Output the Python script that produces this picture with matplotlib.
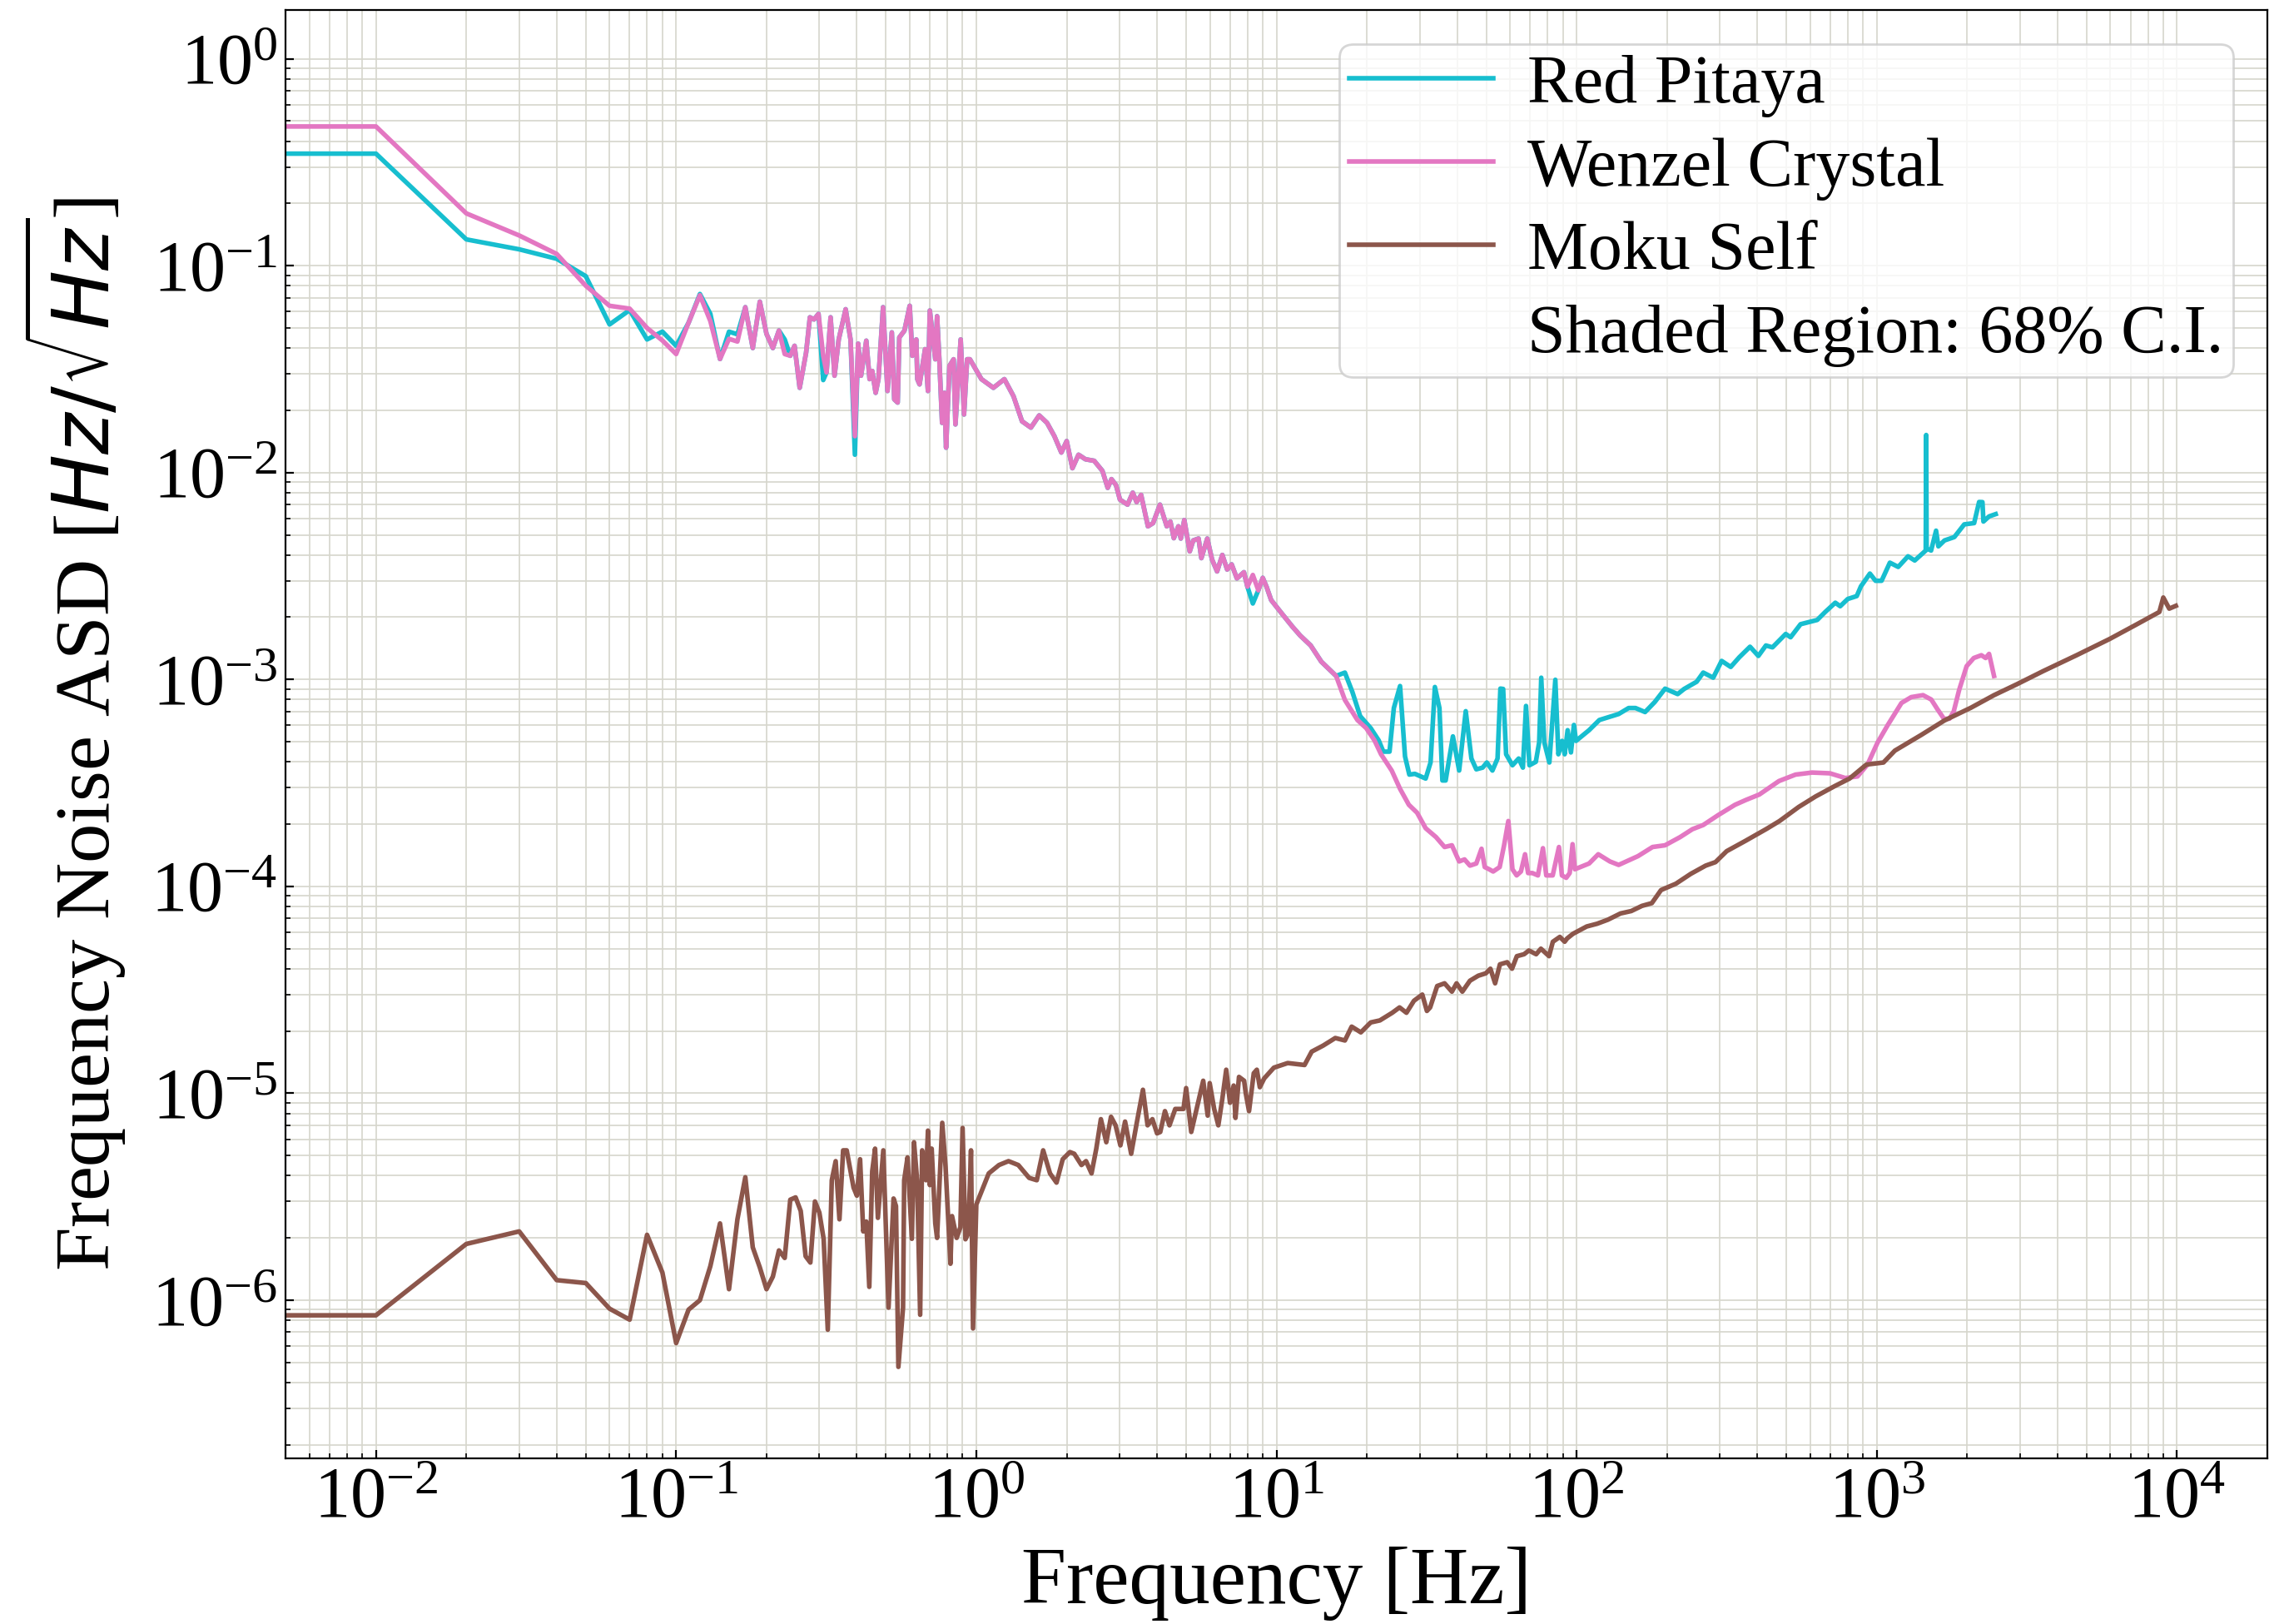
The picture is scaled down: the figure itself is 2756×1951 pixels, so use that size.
import numpy as np
import matplotlib
matplotlib.use('Agg')
import matplotlib.pyplot as plt

# ---- data (frequency in Hz, ASD in Hz/sqrt(Hz)) ----
low_f = [0.005, 0.01, 0.02, 0.03, 0.04, 0.05, 0.06, 0.07, 0.08, 0.09,
         0.10, 0.11, 0.12, 0.13, 0.14, 0.15, 0.16, 0.17, 0.18, 0.19,
         0.20, 0.21, 0.22, 0.23]
pitaya_low_v = [0.348, 0.348, 0.134, 0.120, 0.108, 0.089, 0.052, 0.061, 0.044, 0.048,
                0.041, 0.053, 0.073, 0.0585, 0.0354, 0.048, 0.0466, 0.063, 0.040, 0.067,
                0.0468, 0.040, 0.0486, 0.044]
wenzel_low_v = [0.471, 0.471, 0.179, 0.140, 0.114, 0.080, 0.064, 0.062, 0.050, 0.0435,
                0.0374, 0.053, 0.072, 0.054, 0.0354, 0.0443, 0.043, 0.063, 0.040, 0.067,
                0.0468, 0.040, 0.0486, 0.0374]

# band where Red Pitaya and Wenzel lie on top of each other
mid_f = [0.24, 0.248, 0.258, 0.271, 0.279, 0.288, 0.298, 0.309, 0.317, 0.327,
         0.337, 0.348, 0.367, 0.381, 0.394, 0.404, 0.413, 0.43, 0.441, 0.45,
         0.462, 0.472, 0.489, 0.506, 0.523, 0.533, 0.547, 0.554, 0.576, 0.6,
         0.612, 0.631, 0.636, 0.647, 0.675, 0.69, 0.7, 0.73, 0.74, 0.753,
         0.769, 0.783, 0.793, 0.814, 0.84, 0.852, 0.887, 0.91, 0.932, 0.952,
         1.04, 1.14, 1.24, 1.33, 1.42, 1.52, 1.62, 1.72, 1.82, 1.92,
         2.0, 2.09, 2.19, 2.31, 2.47, 2.63, 2.74, 2.82, 2.92, 3.01,
         3.19, 3.32, 3.42, 3.54, 3.73, 3.88, 4.09, 4.31, 4.43, 4.55,
         4.71, 4.8, 4.93, 5.14, 5.28, 5.5, 5.62, 5.88, 6.1, 6.34,
         6.6, 6.85, 7.09, 7.38, 7.79, 8.0, 8.34, 8.7, 9.0, 9.27,
         9.6, 10.4, 11.3, 12.0, 13.0, 14.1, 15.8]
mid_v = [0.0367, 0.041, 0.0257, 0.038, 0.0563, 0.055, 0.0585, 0.0367, 0.0305, 0.0563,
         0.0294, 0.044, 0.0616, 0.044, 0.015, 0.042, 0.0294, 0.0434, 0.0283, 0.031,
         0.0243, 0.0283, 0.063, 0.0248, 0.0476, 0.0226, 0.0218, 0.045, 0.0485, 0.064,
         0.0367, 0.044, 0.0283, 0.0267, 0.0395, 0.0248, 0.0607, 0.0353, 0.057, 0.0353,
         0.0174, 0.0243, 0.0132, 0.0328, 0.0353, 0.0171, 0.044, 0.0191, 0.0353, 0.0353,
         0.0283, 0.0257, 0.0283, 0.0234, 0.0177, 0.0165, 0.0189, 0.0174, 0.015, 0.0125,
         0.0142, 0.0105, 0.0122, 0.0116, 0.0114, 0.0102, 0.00844, 0.0093, 0.0087, 0.0074,
         0.0070, 0.0080, 0.0072, 0.0078, 0.0055, 0.0057, 0.0070, 0.0055, 0.0058, 0.00482,
         0.0055, 0.0048, 0.0059, 0.00416, 0.0047, 0.0048, 0.00386, 0.0048, 0.0038, 0.00333,
         0.0040, 0.0034, 0.0036, 0.00308, 0.0033, 0.00281, 0.0032, 0.0027, 0.0031, 0.0028,
         0.00242, 0.00209, 0.0018, 0.00163, 0.00146, 0.00122, 0.00104]
# places where the Red Pitaya trace dips below the Wenzel one
pitaya_dip_f = [0.309, 0.394, 8.34]
pitaya_dip_v = [0.028, 0.0122, 0.00233]

pitaya_high_f = [16.9, 17.9, 19.0, 20.6, 21.9, 22.7, 23.8, 24.6, 25.8, 26.8,
                 27.7, 28.9, 31.4, 32.6, 33.7, 34.9, 35.7, 36.6, 38.7, 40.6,
                 42.7, 44.6, 46.3, 48.6, 50.2, 52.4, 54.5, 55.7, 56.9, 58.2,
                 61.1, 64.1, 66.2, 67.8, 69.6, 73.1, 75.0, 76.2, 78.0, 81.1,
                 84.9, 86.9, 89.4, 91.2, 93.3, 95.7, 97.9, 99.5, 110, 119,
                 138, 149, 157, 169, 182, 197, 217, 228, 251, 264,
                 285, 304, 326, 348, 378, 403, 427, 449, 497, 516,
                 557, 633, 673, 727, 755, 800, 857, 885, 948, 990,
                 1037, 1105, 1178, 1270, 1337, 1423, 1455, 1460, 1465, 1516,
                 1575, 1603, 1680, 1812, 1955, 2109, 2191, 2248, 2265, 2365,
                 2488]
pitaya_high_v = [0.00108, 0.00087, 0.000665, 0.000582, 0.000508, 0.000448, 0.000448, 0.000728, 0.00093, 0.000425,
                 0.000347, 0.00035, 0.000332, 0.000397, 0.00092, 0.000728, 0.000325, 0.000325, 0.000531, 0.000363,
                 0.000703, 0.000415, 0.000368, 0.000375, 0.000397, 0.000363, 0.000415, 0.000904, 0.0009, 0.000435,
                 0.000385, 0.000415, 0.000375, 0.000745, 0.000385, 0.0004, 0.000497, 0.00102, 0.000497, 0.000397,
                 0.000997, 0.000435, 0.000505, 0.000435, 0.000569, 0.000444, 0.000603, 0.000505, 0.000569, 0.000637,
                 0.000681, 0.000728, 0.000728, 0.000696, 0.000778, 0.000903, 0.00085, 0.0009, 0.000975, 0.00108,
                 0.00102, 0.00123, 0.00115, 0.00128, 0.00144, 0.0013, 0.00146, 0.00143, 0.00166, 0.0016,
                 0.00185, 0.00194, 0.00212, 0.00235, 0.00226, 0.00245, 0.00253, 0.00282, 0.00325, 0.0030,
                 0.0030, 0.00367, 0.0035, 0.00394, 0.00376, 0.00408, 0.0042, 0.0152, 0.0043, 0.0042,
                 0.00524, 0.0044, 0.0047, 0.00488, 0.00562, 0.0057, 0.00721, 0.0072, 0.0058, 0.00614,
                 0.0063]

wenzel_high_f = [16.9, 18.6, 19.9, 21.2, 22.3, 24.2, 25.8, 27.6, 29.4, 31.4,
                 34.0, 36.3, 38.4, 40.6, 42.3, 44.1, 46.3, 48.2, 49.4, 51.1,
                 52.7, 55.4, 57.3, 59.2, 61.1, 63.1, 65.2, 67.3, 68.9, 71.2,
                 74.3, 77.2, 79.2, 83.2, 87.3, 89.3, 92.3, 94.8, 96.9, 98.6,
                 110, 118, 129, 138, 160, 179, 197, 221, 243, 264,
                 296, 337, 367, 406, 472, 536, 608, 698, 785, 862,
                 930, 1005, 1087, 1208, 1302, 1425, 1518, 1590, 1673, 1745,
                 1803, 1880, 1991, 2103, 2229, 2304, 2365, 2457]
wenzel_high_v = [0.000796, 0.000637, 0.000582, 0.000508, 0.000435, 0.000363, 0.000296, 0.000248, 0.000227, 0.000191,
                 0.000173, 0.000155, 0.000158, 0.000132, 0.000135, 0.000126, 0.000129, 0.000152, 0.000124, 0.000121,
                 0.000118, 0.000124, 0.000158, 0.000207, 0.000121, 0.000113, 0.000118, 0.000143, 0.000116, 0.000116,
                 0.000113, 0.000153, 0.000113, 0.000113, 0.000155, 0.000113, 0.000110, 0.000116, 0.00016, 0.000121,
                 0.000129, 0.000143, 0.000132, 0.000127, 0.000140, 0.000155, 0.000158, 0.000173, 0.000189, 0.000198,
                 0.000221, 0.000248, 0.000262, 0.000278, 0.000323, 0.000347, 0.000355, 0.000352, 0.000334, 0.00034,
                 0.000387, 0.000495, 0.000602, 0.00077, 0.000822, 0.00084, 0.0008, 0.00072, 0.000646, 0.000646,
                 0.0007, 0.00089, 0.00116, 0.00127, 0.00131, 0.00127, 0.00133, 0.00104]

moku_f = [0.005, 0.01, 0.02, 0.03, 0.04, 0.05, 0.06, 0.07, 0.08, 0.09,
          0.10, 0.11, 0.12, 0.13, 0.14, 0.15, 0.16, 0.17, 0.18, 0.19,
          0.20, 0.21, 0.22, 0.23, 0.24, 0.25, 0.26, 0.27, 0.28, 0.29,
          0.30, 0.31, 0.32, 0.33, 0.34, 0.35, 0.36, 0.37, 0.39, 0.40,
          0.41, 0.42, 0.43, 0.44, 0.45, 0.46, 0.47, 0.49, 0.51, 0.53,
          0.54, 0.55, 0.57, 0.575, 0.59, 0.61, 0.62, 0.635, 0.65, 0.66,
          0.68, 0.69, 0.70, 0.71, 0.73, 0.74, 0.77, 0.79, 0.82, 0.83,
          0.86, 0.885, 0.90, 0.92, 0.94, 0.96, 0.975, 1.0, 1.1, 1.19,
          1.28, 1.38, 1.5, 1.59, 1.67, 1.76, 1.85, 1.94, 2.05, 2.12,
          2.24, 2.32, 2.42, 2.51, 2.6, 2.71, 2.81, 2.91, 3.02, 3.13,
          3.28, 3.43, 3.59, 3.72, 3.86, 4.0, 4.1, 4.25, 4.4, 4.6,
          4.9, 5.0, 5.2, 5.5, 5.7, 5.9, 5.99, 6.2, 6.4, 6.6,
          6.8, 7.0, 7.2, 7.3, 7.5, 7.8, 7.9, 8.1, 8.4, 8.6,
          8.8, 9.1, 9.8, 10.9, 12.4, 13.1, 14.3, 15.7, 16.9, 17.8,
          19.1, 20.6, 22.1, 24.3, 25.7, 27.1, 28.7, 30.6, 31.7, 32.5,
          34.3, 36.3, 38.4, 39.8, 41.6, 44.1, 47.0, 49.8, 51.6, 53.5,
          55.5, 58.7, 60.9, 63.2, 66.8, 69.3, 73.3, 76.0, 80.9, 83.3,
          87.9, 91.2, 92.9, 97.2, 108, 117, 127, 140, 152, 165,
          178, 191, 214, 240, 269, 290, 316, 365, 430, 474,
          549, 625, 723, 811, 923, 1052, 1148, 1407, 1680, 2057,
          2457, 2934, 3592, 4628, 5965, 7305, 8731, 9000, 9420, 9910]
moku_v = [8.45e-7, 8.45e-7, 1.87e-6, 2.15e-6, 1.25e-6, 1.21e-6, 9.1e-7, 8.05e-7, 2.07e-6, 1.36e-6,
          6.2e-7, 9.0e-7, 1.0e-6, 1.46e-6, 2.35e-6, 1.13e-6, 2.46e-6, 3.93e-6, 1.8e-6, 1.44e-6,
          1.13e-6, 1.3e-6, 1.74e-6, 1.6e-6, 3.06e-6, 3.14e-6, 2.7e-6, 1.63e-6, 1.52e-6, 3.0e-6,
          2.65e-6, 1.98e-6, 7.2e-7, 3.8e-6, 4.7e-6, 2.46e-6, 5.3e-6, 5.3e-6, 3.5e-6, 3.2e-6,
          4.8e-6, 2.15e-6, 2.4e-6, 1.16e-6, 4.2e-6, 5.4e-6, 2.5e-6, 5.3e-6, 9.2e-7, 3.1e-6,
          2.85e-6, 4.76e-7, 9.2e-7, 3.8e-6, 4.9e-6, 1.98e-6, 5.8e-6, 3.8e-6, 8.5e-7, 5.3e-6,
          3.8e-6, 6.6e-6, 3.6e-6, 5.4e-6, 2.35e-6, 2.0e-6, 7.2e-6, 4.4e-6, 1.5e-6, 2.55e-6,
          2.0e-6, 2.25e-6, 6.8e-6, 1.97e-6, 2.1e-6, 5.3e-6, 7.3e-7, 2.9e-6, 4.1e-6, 4.5e-6,
          4.7e-6, 4.5e-6, 3.9e-6, 3.8e-6, 5.3e-6, 4.1e-6, 3.7e-6, 4.8e-6, 5.2e-6, 5.1e-6,
          4.5e-6, 4.7e-6, 4.1e-6, 5.4e-6, 7.5e-6, 5.8e-6, 7.7e-6, 7.0e-6, 5.6e-6, 7.3e-6,
          5.1e-6, 7.3e-6, 1.04e-5, 7.0e-6, 7.5e-6, 6.4e-6, 6.5e-6, 8.2e-6, 7.0e-6, 8.4e-6,
          8.4e-6, 1.06e-5, 6.5e-6, 9.2e-6, 1.15e-5, 7.8e-6, 1.12e-5, 8.4e-6, 7.0e-6, 9.4e-6,
          1.3e-5, 9.0e-6, 1.09e-5, 7.6e-6, 1.2e-5, 1.15e-5, 1.0e-5, 8.2e-6, 1.25e-5, 1.3e-5,
          1.07e-5, 1.18e-5, 1.33e-5, 1.4e-5, 1.37e-5, 1.59e-5, 1.7e-5, 1.85e-5, 1.8e-5, 2.1e-5,
          1.97e-5, 2.2e-5, 2.25e-5, 2.45e-5, 2.6e-5, 2.45e-5, 2.8e-5, 3.0e-5, 2.5e-5, 2.6e-5,
          3.3e-5, 3.4e-5, 3.1e-5, 3.4e-5, 3.1e-5, 3.5e-5, 3.7e-5, 3.8e-5, 4.0e-5, 3.4e-5,
          4.2e-5, 4.3e-5, 4.0e-5, 4.6e-5, 4.7e-5, 4.9e-5, 4.7e-5, 5.0e-5, 4.6e-5, 5.4e-5,
          5.7e-5, 5.4e-5, 5.6e-5, 5.9e-5, 6.4e-5, 6.6e-5, 6.9e-5, 7.4e-5, 7.6e-5, 8.05e-5,
          8.3e-5, 9.6e-5, 0.000103, 0.000115, 0.000126, 0.000131, 0.000148, 0.000166, 0.00019, 0.000207,
          0.000242, 0.000272, 0.000305, 0.000332, 0.000388, 0.000397, 0.000453, 0.00054, 0.000634, 0.00073,
          0.00084, 0.00095, 0.0011, 0.00131, 0.00157, 0.00184, 0.00212, 0.00249, 0.0022, 0.00227]

labels = ['Red Pitaya', 'Wenzel Crystal', 'Moku Self']
colors = ['#17becf', '#e377c2', '#8c564b']

# ---- assemble the series ----
pitaya_mid_v = np.array(mid_v, dtype=float)
for f0, v0 in zip(pitaya_dip_f, pitaya_dip_v):
    pitaya_mid_v[np.isclose(mid_f, f0)] = v0

pitaya_f = np.concatenate([low_f, mid_f, pitaya_high_f])
pitaya_v = np.concatenate([pitaya_low_v, pitaya_mid_v, pitaya_high_v])
wenzel_f = np.concatenate([low_f, mid_f, wenzel_high_f])
wenzel_v = np.concatenate([wenzel_low_v, mid_v, wenzel_high_v])

plt.rcParams['font.family'] = ['Liberation Serif', 'DejaVu Serif']

fig, ax = plt.subplots(figsize=(13.78, 9.755), dpi=200)
fig.subplots_adjust(left=0.1245, right=0.9884, bottom=0.102, top=0.9938)

ax.loglog(pitaya_f, pitaya_v, color=colors[0], lw=2.0, label=labels[0])
ax.loglog(wenzel_f, wenzel_v, color=colors[1], lw=2.0, label=labels[1])
ax.loglog(moku_f, moku_v, color=colors[2], lw=2.0, label=labels[2])
ax.plot([], [], ' ', label='Shaded Region: 68% C.I.')

ax.set_xlim(5e-3, 2e4)
ax.set_ylim(1.72e-7, 1.72)

ax.grid(True, which='both', color='#d6d6cc', lw=0.6)
ax.set_axisbelow(True)
ax.tick_params(which='both', direction='in', top=False, right=False, labelsize=31)
ax.tick_params(which='major', length=3.5, width=0.8)
ax.tick_params(which='minor', length=2, width=0.6)
for s in ax.spines.values():
    s.set_linewidth(0.8)

ax.set_xlabel('Frequency [Hz]', fontsize=35, labelpad=6)
ax.set_ylabel(r'Frequency Noise ASD [$Hz/\sqrt{Hz}$]', fontsize=34, labelpad=10)

ax.legend(loc='upper right', fontsize=29.5, borderpad=0.15, labelspacing=0.3,
          handlelength=2.1, handletextpad=0.5)

fig.savefig('out.png', dpi=200)
